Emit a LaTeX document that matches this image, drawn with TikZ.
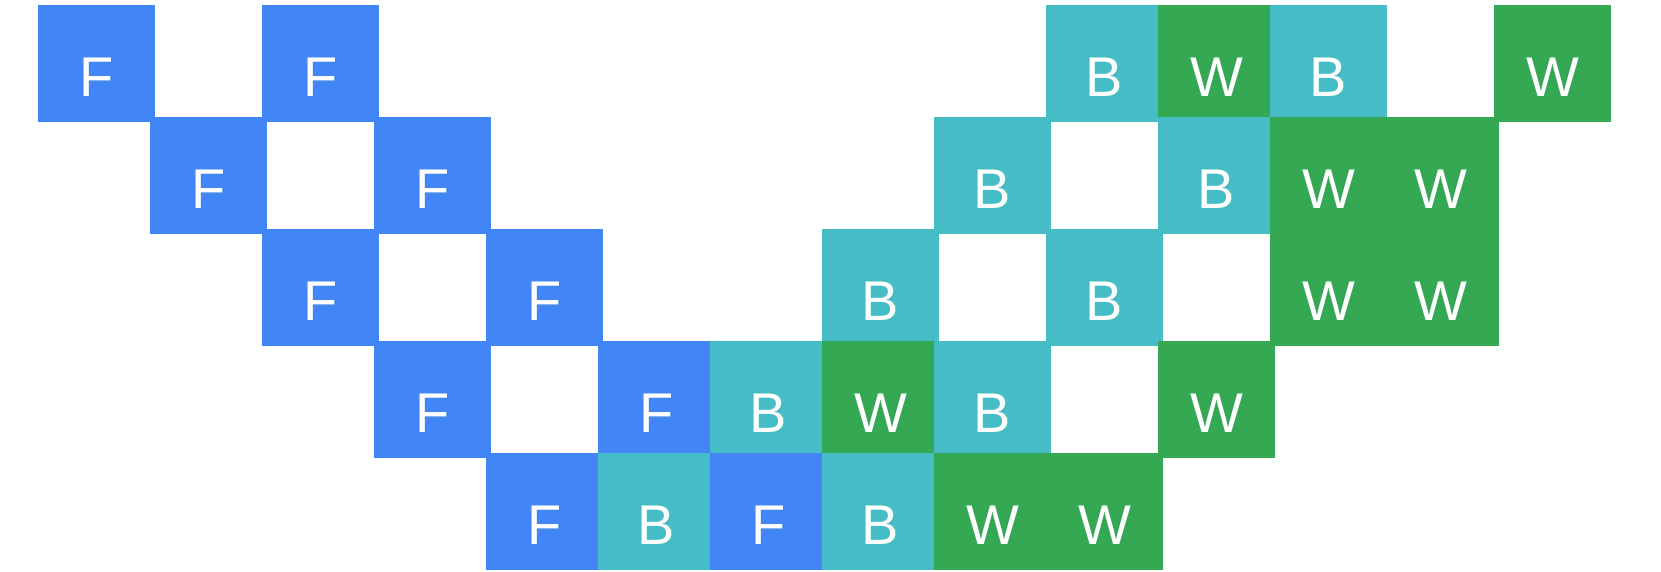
\documentclass[tikz,border=0pt]{standalone}
\usepackage{fontspec}
\setmainfont{Liberation Sans}
\definecolor{fblue}{HTML}{4285F4}
\definecolor{bteal}{HTML}{46BDC6}
\definecolor{wgreen}{HTML}{34A853}
\tikzset{
  cell/.style={minimum width=117pt,minimum height=117pt,inner sep=0pt,
    text=white,font=\fontsize{56}{60}\selectfont,text height=65pt,text depth=0pt},
  F/.style={cell,fill=fblue},
  B/.style={cell,fill=bteal},
  W/.style={cell,fill=wgreen}
}
\begin{document}
\begin{tikzpicture}[x=1pt,y=-1pt]
\useasboundingbox (0,0) rectangle (1661,571);
\foreach \r/\c/\t in {
  0/0/F, 0/2/F, 0/9/B, 0/10/W, 0/11/B, 0/13/W,
  1/1/F, 1/3/F, 1/8/B, 1/10/B, 1/11/W, 1/12/W,
  2/2/F, 2/4/F, 2/7/B, 2/9/B, 2/11/W, 2/12/W,
  3/3/F, 3/5/F, 3/6/B, 3/7/W, 3/8/B, 3/10/W,
  4/4/F, 4/5/B, 4/6/F, 4/7/B, 4/8/W, 4/9/W}
  \node[\t] (n-\r-\c) at ({96.5+112*\c},{63.5+112*\r}) {\t};
\end{tikzpicture}
\end{document}
